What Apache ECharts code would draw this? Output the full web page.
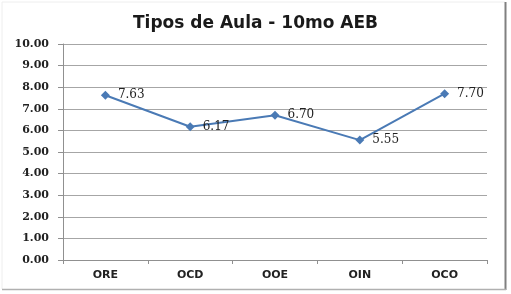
<!DOCTYPE html>
<html><head><meta charset="utf-8">
<script src="https://cdn.jsdelivr.net/npm/echarts@6/dist/echarts.min.js"></script>
<style>html,body{margin:0;padding:0;background:#fff}#c{width:511px;height:294px}</style>
</head><body><div id="c"></div>
<script>
const title = 'Tipos de Aula - 10mo AEB';
const categories = ['ORE', 'OCD', 'OOE', 'OIN', 'OCO'];
const values = [7.63, 6.17, 6.70, 5.55, 7.70];
const yMin = 0, yMax = 10, yStep = 1;

const chart = echarts.init(document.getElementById('c'));
chart.setOption({
  animation: false,
  backgroundColor: '#fff',
  graphic: [
    {type: 'line', shape: {x1: 2, y1: 2, x2: 505, y2: 2}, style: {stroke: '#eeeeee', lineWidth: 1}, silent: true},
    {type: 'line', shape: {x1: 2, y1: 2, x2: 2, y2: 289}, style: {stroke: '#eeeeee', lineWidth: 1}, silent: true},
    {type: 'line', shape: {x1: 505.5, y1: 2, x2: 505.5, y2: 290}, style: {stroke: '#808080', lineWidth: 2}, silent: true},
    {type: 'line', shape: {x1: 2, y1: 289.5, x2: 506, y2: 289.5}, style: {stroke: '#b0b0b0', lineWidth: 1.5}, silent: true}
  ],
  title: {
    text: title, left: 'center', top: 10,
    textStyle: {fontFamily: 'DejaVu Sans', fontWeight: 'bold', fontSize: 17, color: '#1a1a1a'}
  },
  grid: {left: 63, right: 24, top: 44, bottom: 34},
  xAxis: {
    type: 'category', data: categories, boundaryGap: true,
    axisLine: {lineStyle: {color: '#909090', width: 1}},
    axisTick: {show: true, length: 4, lineStyle: {color: '#909090'}},
    axisLabel: {fontFamily: 'DejaVu Sans', fontWeight: 'bold', fontSize: 11, color: '#222', margin: 10}
  },
  yAxis: {
    type: 'value', min: yMin, max: yMax, interval: yStep,
    axisLine: {show: true, lineStyle: {color: '#909090', width: 1}},
    axisTick: {show: true, length: 5, lineStyle: {color: '#909090'}},
    splitLine: {lineStyle: {color: '#a6a6a6', width: 1}},
    axisLabel: {formatter: v => v.toFixed(2), fontFamily: 'DejaVu Serif', fontWeight: 'bold', fontSize: 11, color: '#222', margin: 14}
  },
  series: [{
    type: 'line', data: values,
    symbol: 'diamond', symbolSize: 9,
    lineStyle: {color: '#4a7ab5', width: 2},
    itemStyle: {color: '#4a7ab5'},
    label: {show: true, position: 'right', distance: 8, formatter: p => p.value.toFixed(2),
      fontFamily: 'DejaVu Serif', fontSize: 12, color: '#222'}
  }]
});
</script></body></html>
